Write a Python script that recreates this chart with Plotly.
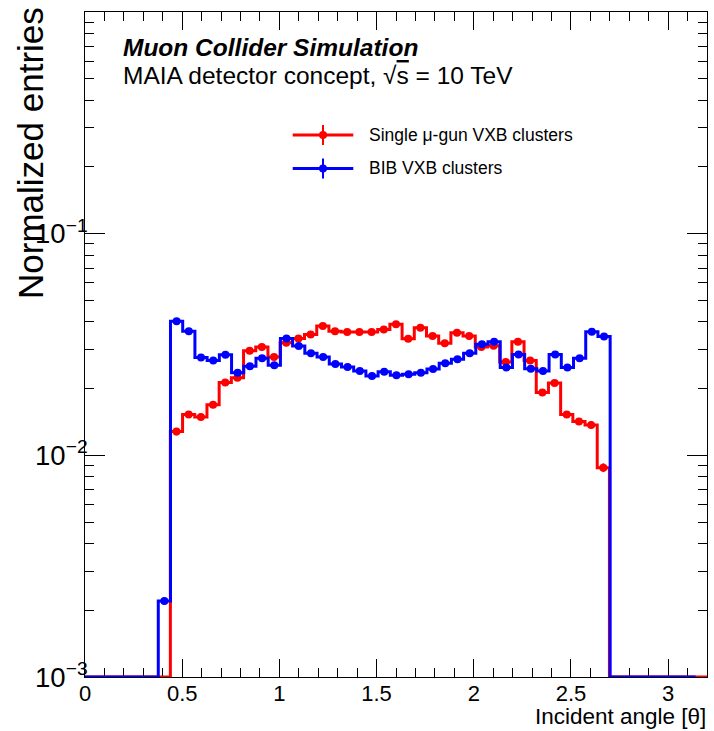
import numpy as np
import plotly.graph_objects as go

# ---- data -------------------------------------------------------------
# Normalized cluster counts per bin of incident angle theta.
# Muon-gun histogram: 51 bins on [0, 3.2]; BIB histogram: 50 bins on [0, pi].
MU_X_RANGE = (0.0, 3.2)
MU_NBINS = 51
MU_FIRST_BIN = 7
mu_values = [0.0128, 0.0153, 0.0149, 0.0169, 0.0213, 0.0224, 0.0296, 0.0308,
             0.0278, 0.0322, 0.0337, 0.0351, 0.0383, 0.0363, 0.0360, 0.0360,
             0.0360, 0.0370, 0.0390, 0.0336, 0.0376, 0.0345, 0.0320, 0.0357,
             0.0345, 0.0308, 0.0312, 0.0264, 0.0325, 0.0268, 0.0192, 0.0212,
             0.0153, 0.0142, 0.0137, 0.0088]
mu_errors = [0.0005, 0.0005, 0.0005, 0.0005, 0.0006, 0.0006, 0.0007, 0.0007,
             0.0007, 0.0007, 0.0007, 0.0007, 0.0008, 0.0007, 0.0007, 0.0007,
             0.0007, 0.0007, 0.0008, 0.0007, 0.0007, 0.0007, 0.0007, 0.0007,
             0.0007, 0.0007, 0.0007, 0.0006, 0.0007, 0.0006, 0.0005, 0.0005,
             0.0005, 0.0005, 0.0005, 0.0004]

BIB_X_RANGE = (0.0, np.pi)
BIB_NBINS = 50
BIB_FIRST_BIN = 6
bib_values = [0.0022, 0.0403, 0.0363, 0.0276, 0.0268, 0.0284, 0.0236, 0.0252,
              0.0274, 0.0255, 0.0337, 0.0311, 0.0289, 0.0278, 0.0258, 0.0250,
              0.0240, 0.0228, 0.0238, 0.0230, 0.0232, 0.0236, 0.0245, 0.0260,
              0.0271, 0.0289, 0.0317, 0.0325, 0.0249, 0.0285, 0.0246, 0.0240,
              0.0285, 0.0249, 0.0274, 0.0361, 0.0344]
bib_errors = [0.00008, 0.0004, 0.0004, 0.0003, 0.0003, 0.0003, 0.0003, 0.0003,
              0.0003, 0.0003, 0.0004, 0.0003, 0.0003, 0.0003, 0.0003, 0.0003,
              0.0003, 0.0003, 0.0003, 0.0003, 0.0003, 0.0003, 0.0003, 0.0003,
              0.0003, 0.0003, 0.0004, 0.0004, 0.0003, 0.0003, 0.0003, 0.0003,
              0.0003, 0.0003, 0.0003, 0.0004, 0.0004]

series = [
    dict(name="Single \u03bc-gun VXB clusters", color="#ff0000",
         xr=MU_X_RANGE, nb=MU_NBINS, first=MU_FIRST_BIN,
         vals=mu_values, errs=mu_errors),
    dict(name="BIB VXB clusters", color="#0000ff",
         xr=BIB_X_RANGE, nb=BIB_NBINS, first=BIB_FIRST_BIN,
         vals=bib_values, errs=bib_errors),
]

Y_MIN, Y_MAX = 1e-3, 1.0
X_MIN, X_MAX = 0.0, 3.2

W, H = 714, 731
ML, MR, MT, MB = 85, 7, 12, 54
PW, PH = W - ML - MR, H - MT - MB

FONT = "Liberation Sans, Arial, Helvetica, sans-serif"

fig = go.Figure()

for s in series:
    edges = np.linspace(s["xr"][0], s["xr"][1], s["nb"] + 1)
    full = np.zeros(s["nb"])
    err = np.zeros(s["nb"])
    full[s["first"]:s["first"] + len(s["vals"])] = s["vals"]
    err[s["first"]:s["first"] + len(s["errs"])] = s["errs"]
    # empty bins sit on the bottom of the log frame
    drawn = np.where(full > 0, full, Y_MIN)
    step_y = np.append(drawn, drawn[-1])
    fig.add_trace(go.Scatter(
        x=edges, y=step_y, mode="lines", line_shape="hv",
        line=dict(color=s["color"], width=3),
        showlegend=False, hoverinfo="skip"))
    centers = 0.5 * (edges[:-1] + edges[1:])
    nz = full > 0
    fig.add_trace(go.Scatter(
        x=centers[nz], y=full[nz], mode="markers", name=s["name"],
        marker=dict(color=s["color"], size=8, symbol="circle"),
        error_y=dict(type="data", array=err[nz], visible=True,
                     color=s["color"], thickness=2, width=0),
        showlegend=False))

fig.update_xaxes(
    range=[X_MIN, X_MAX], dtick=0.5, tick0=0,
    ticks="inside", ticklen=18, tickwidth=1, tickcolor="black",
    minor=dict(dtick=0.1, ticks="inside", ticklen=9, tickcolor="black"),
    showline=True, linecolor="black", linewidth=1, mirror="allticks",
    showgrid=False, zeroline=False,
    tickfont=dict(family=FONT, size=22, color="black"),
    ticklabelstandoff=-3,
    layer="below traces",
)
fig.update_yaxes(
    type="log", range=[np.log10(Y_MIN), np.log10(Y_MAX)], dtick=1,
    exponentformat="power",
    ticks="inside", ticklen=20, tickwidth=1, tickcolor="black",
    minor=dict(dtick="D1", ticks="inside", ticklen=9, tickcolor="black"),
    showline=True, linecolor="black", linewidth=1, mirror="allticks",
    showgrid=False, zeroline=False,
    tickfont=dict(family=FONT, size=22, color="black"),
    ticklabelstandoff=-8,
    layer="below traces",
)

annotations = [
    dict(text="<b><i>Muon Collider Simulation</i></b>", x=0, y=1,
         xref="paper", yref="paper", xanchor="left", yanchor="middle",
         xshift=36, yshift=-35, showarrow=False,
         font=dict(family=FONT, size=24.5, color="black")),
    dict(text="MAIA detector concept, \u221a<span style='text-decoration:overline'>s</span> = 10 TeV",
         x=0, y=1, xref="paper", yref="paper", xanchor="left", yanchor="middle",
         xshift=36, yshift=-63, showarrow=False,
         font=dict(family=FONT, size=24.5, color="black")),
    dict(text="Normalized entries", x=0, y=1, xref="paper", yref="paper",
         xanchor="center", yanchor="top", xshift=-55, yshift=7,
         textangle=-90, showarrow=False,
         font=dict(family=FONT, size=35, color="black")),
    dict(text="Incident angle [\u03b8]", x=1, y=0, xref="paper", yref="paper",
         xanchor="right", yanchor="bottom", xshift=0, yshift=-MB + 1,
         borderpad=0, showarrow=False,
         font=dict(family=FONT, size=22.5, color="black")),
]

# legend block drawn in pixel offsets inside the frame
shapes = []
LEG_X0, LEG_X1, LEG_TXT = 292.7 - ML, 353.3 - ML, 367.0 - ML
leg_rows = [135.0 - MT, 168.5 - MT]
for s, row in zip(series, leg_rows):
    yp = 1 - row / PH
    shapes.append(dict(type="line", xref="paper", yref="paper",
                       x0=LEG_X0 / PW, x1=LEG_X1 / PW, y0=yp, y1=yp,
                       line=dict(color=s["color"], width=3)))
    xm = 0.5 * (LEG_X0 + LEG_X1) / PW
    shapes.append(dict(type="line", xref="paper", yref="paper",
                       xsizemode="pixel", ysizemode="pixel",
                       xanchor=xm, yanchor=yp, x0=0, x1=0, y0=-10, y1=10,
                       line=dict(color=s["color"], width=2)))
    shapes.append(dict(type="circle", xref="paper", yref="paper",
                       xsizemode="pixel", ysizemode="pixel",
                       xanchor=xm, yanchor=yp, x0=-4, x1=4, y0=-4, y1=4,
                       fillcolor=s["color"], line=dict(color=s["color"], width=0)))
    annotations.append(dict(text=s["name"], x=LEG_TXT / PW, y=yp,
                            xref="paper", yref="paper", xanchor="left",
                            yanchor="middle", showarrow=False,
                            font=dict(family=FONT, size=17.5, color="black")))

fig.update_layout(
    width=W, height=H,
    margin=dict(l=ML, r=MR, t=MT, b=MB, pad=0),
    paper_bgcolor="white", plot_bgcolor="white",
    showlegend=False,
    annotations=annotations, shapes=shapes,
)

fig.write_html("out.html")
